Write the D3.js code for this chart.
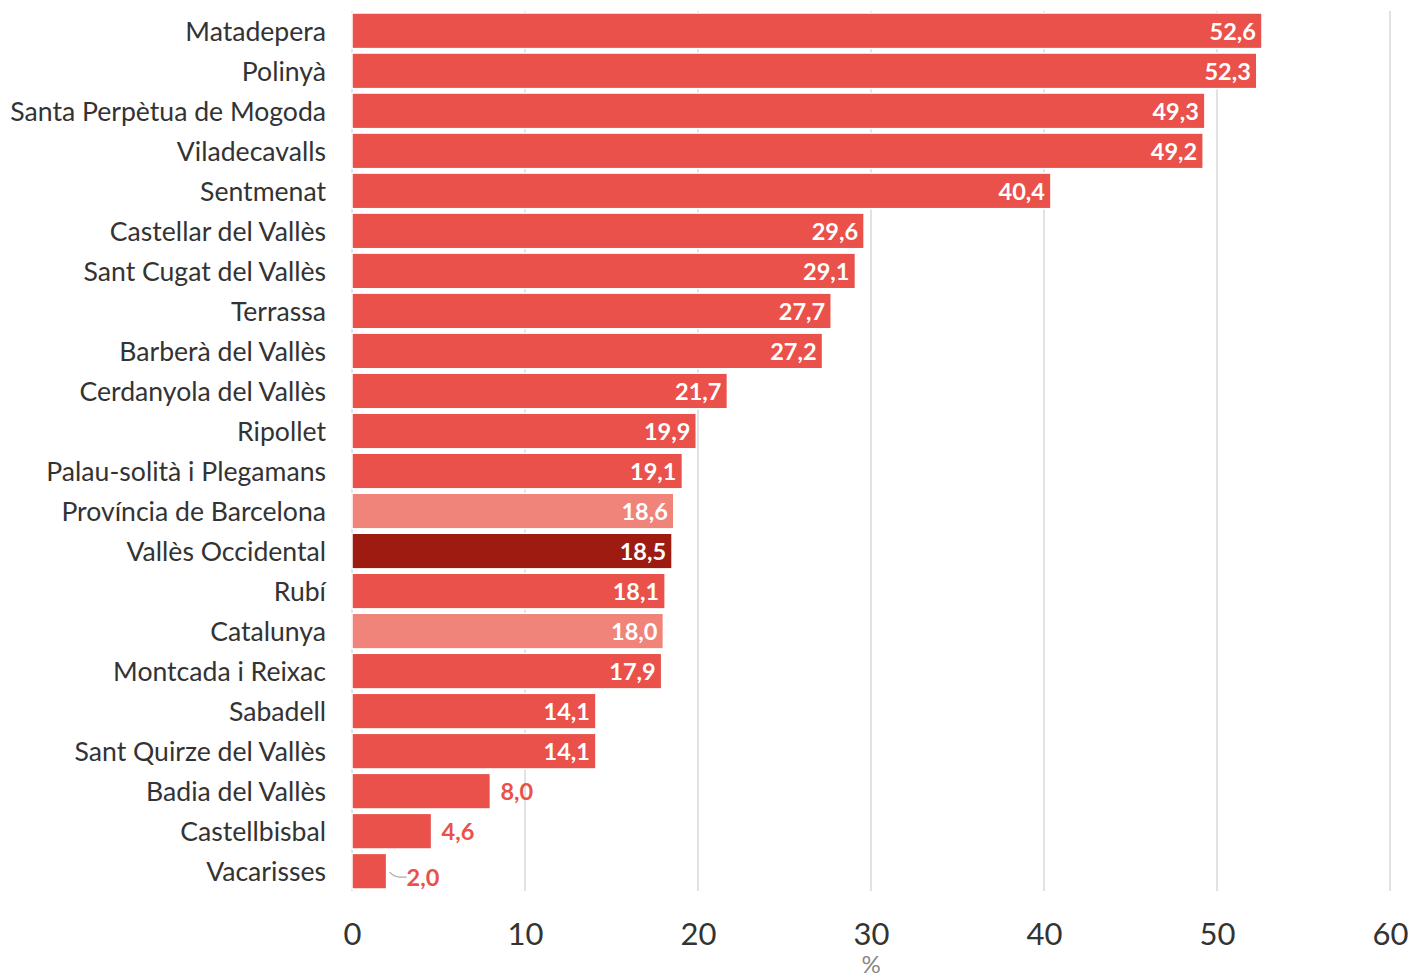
<!DOCTYPE html>
<html>
<head>
<meta charset="utf-8">
<script src="https://cdn.jsdelivr.net/npm/d3@7"></script>
<style>
  body { margin: 0; background: #fff; }
  svg { font-family: Lato, "Open Sans", sans-serif; }
</style>
</head>
<body>
<svg width="1411" height="974"></svg>
<script>
// data
var municipis = ["Matadepera", "Polinyà", "Santa Perpètua de Mogoda", "Viladecavalls", "Sentmenat",
  "Castellar del Vallès", "Sant Cugat del Vallès", "Terrassa", "Barberà del Vallès", "Cerdanyola del Vallès",
  "Ripollet", "Palau-solità i Plegamans", "Província de Barcelona", "Vallès Occidental", "Rubí",
  "Catalunya", "Montcada i Reixac", "Sabadell", "Sant Quirze del Vallès", "Badia del Vallès",
  "Castellbisbal", "Vacarisses"];
var valors = [52.6, 52.3, 49.3, 49.2, 40.4, 29.6, 29.1, 27.7, 27.2, 21.7, 19.9, 19.1, 18.6, 18.5,
  18.1, 18.0, 17.9, 14.1, 14.1, 8.0, 4.6, 2.0];
var tipus = ["m", "m", "m", "m", "m", "m", "m", "m", "m", "m", "m", "m", "ref", "comarca",
  "m", "ref", "m", "m", "m", "m", "m", "m"];
var ticks = [0, 10, 20, 30, 40, 50, 60];

var data = municipis.map(function (d, i) {
  return { nom: d, valor: valors[i], tipus: tipus[i] };
});

var svg = d3.select("svg"),
    margin = { top: 11, right: 21, bottom: 83, left: 352 },
    width = +svg.attr("width") - margin.left - margin.right,
    height = +svg.attr("height") - margin.top - margin.bottom;

var x = d3.scaleLinear().domain([0, 60]).range([0, width]);
var y = d3.scaleBand().domain(municipis).range([0, height]).paddingInner(0.11).paddingOuter(0.05);

var color = d3.scaleOrdinal()
  .domain(["m", "ref", "comarca"])
  .range(["#E9514A", "#F0837A", "#9E1B12"]);

var g = svg.append("g")
  .attr("transform", "translate(" + margin.left + "," + margin.top + ")");

// grid lines
g.selectAll(".grid")
  .data(ticks)
  .enter().append("line")
  .attr("class", "grid")
  .attr("x1", function (d) { return x(d); })
  .attr("x2", function (d) { return x(d); })
  .attr("y1", 0)
  .attr("y2", height)
  .attr("stroke", "#e2e2e2")
  .attr("stroke-width", 2);

// bars
g.selectAll(".bar")
  .data(data)
  .enter().append("rect")
  .attr("class", "bar")
  .attr("x", x(0))
  .attr("y", function (d) { return y(d.nom); })
  .attr("width", function (d) { return x(d.valor) - x(0); })
  .attr("height", y.bandwidth())
  .attr("fill", function (d) { return color(d.tipus); })
  .attr("stroke", "#fff")
  .attr("stroke-width", 1.5);

var fmt = function (v) { return d3.format(".1f")(v).replace(".", ","); };

// value labels
g.selectAll(".val")
  .data(data)
  .enter().append("text")
  .attr("class", "val")
  .attr("x", function (d) {
    if (d.valor < 3) return x(d.valor) + 20;
    if (d.valor < 10) return x(d.valor) + 10;
    return x(d.valor) - 6;
  })
  .attr("y", function (d) { return y(d.nom) + y.bandwidth() / 2 + (d.valor < 3 ? 6 : 0); })
  .attr("dy", "0.38em")
  .attr("text-anchor", function (d) { return d.valor < 10 ? "start" : "end"; })
  .attr("fill", function (d) { return d.valor < 10 ? "#E9514A" : "#fff"; })
  .style("font-size", "23.5px")
  .style("font-weight", "bold")
  .text(function (d) { return fmt(d.valor); });

// leader line for the smallest bar
data.filter(function (d) { return d.valor < 3; }).forEach(function (d) {
  var cy = y(d.nom) + y.bandwidth() / 2;
  var x0 = x(d.valor) + 3;
  g.append("path")
    .attr("d", "M" + x0 + "," + (cy + 1) + " Q" + (x0 + 5) + "," + (cy + 6) + " " + (x0 + 10) + "," + (cy + 6) + " L" + (x0 + 17) + "," + (cy + 6))
    .attr("fill", "none")
    .attr("stroke", "#aaa")
    .attr("stroke-width", 1.2);
});

// category labels
g.selectAll(".cat")
  .data(data)
  .enter().append("text")
  .attr("class", "cat")
  .attr("x", -26)
  .attr("y", function (d) { return y(d.nom) + y.bandwidth() / 2; })
  .attr("dy", "0.38em")
  .attr("text-anchor", "end")
  .attr("fill", "#333")
  .style("font-size", "26.6px")
  .text(function (d) { return d.nom; });

// x axis
var xAxis = g.append("g")
  .attr("transform", "translate(0," + height + ")")
  .call(d3.axisBottom(x).tickValues(ticks).tickSize(0).tickPadding(32).tickFormat(d3.format("d")));
xAxis.select(".domain").remove();
xAxis.selectAll("text")
  .attr("fill", "#333")
  .style("font-family", "Lato, sans-serif")
  .style("font-size", "31px");

g.append("text")
  .attr("x", x(30))
  .attr("y", height + 82)
  .attr("text-anchor", "middle")
  .attr("fill", "#888")
  .style("font-size", "24px")
  .text("%");
</script>
</body>
</html>
